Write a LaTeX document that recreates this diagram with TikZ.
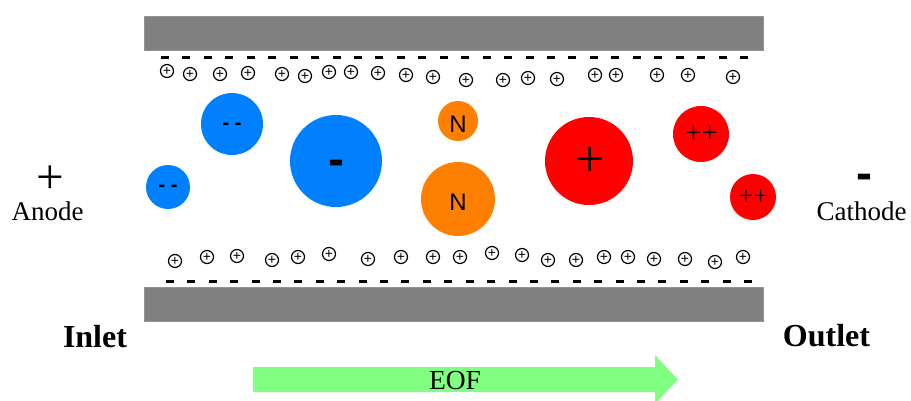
\documentclass[tikz,border=0pt]{standalone}
\usepackage{fontspec}
\setmainfont{Liberation Serif}
\newfontfamily\sansf{Liberation Sans}
\definecolor{plategray}{HTML}{808080}
\definecolor{ionblue}{HTML}{0080FF}
\definecolor{ionorange}{HTML}{FF8000}
\definecolor{ionred}{HTML}{FF0000}
\definecolor{eofgreen}{HTML}{80FF80}
\tikzset{
  plate/.style={fill=plategray, draw=plategray!85, line width=0.6pt},
  wallneg/.style={shape=rectangle, fill=black, minimum width=8pt, minimum height=3pt, inner sep=0pt},
  cation/.style={circle, draw=black, line width=1.2pt, minimum size=13pt, inner sep=0pt,
                 font=\sansf\fontsize{14}{14}\selectfont},
  particle/.style={circle, inner sep=0pt, draw=none},
  plab/.style={anchor=base, inner sep=0pt},
  txt/.style={anchor=base, inner sep=0pt, font=\fontsize{27}{30}\selectfont},
  bigtxt/.style={anchor=base, inner sep=0pt, font=\bfseries\fontsize{32}{36}\selectfont},
}
\begin{document}
\begin{tikzpicture}[x=1pt,y=-1pt]
\useasboundingbox (0,0) rectangle (911,400);
% plates
\fill[plate] (144,16) rectangle (763,50);
\fill[plate] (144,287) rectangle (763,321);
% wall charges
\foreach \i in {0,...,27} {
  \node[wallneg] (tw\i) at ({165+21.444*\i},57) {};
  \node[wallneg] (bw\i) at ({170+21.407*\i},281) {};
}
% counter-ions, top row
\foreach \x/\y [count=\i] in {167/71,190/74,220/74,248/73,282/74,305/76,329/72,351/72,378/73,406/75,433/77,466/80,503/80,528/78,557/79,595/75,616/75,657/75,688/75,733/77}
  \node[cation] (ti\i) at (\x,\y) {+};
% counter-ions, bottom row
\foreach \x/\y [count=\i] in {175/261,207/257,237/256,272/260,298/257,329/254,368/259,401/257,433/257,460/257,492/253,522/255,548/260,576/260,604/257,628/257,654/259,685/259,715/262,743/257}
  \node[cation] (bi\i) at (\x,\y) {+};
% particles
\node[particle, fill=ionblue, minimum size=44pt] (b1) at (168,187) {};
\node[particle, fill=ionblue, minimum size=62pt] (b2) at (232,124) {};
\node[particle, fill=ionblue, minimum size=92pt] (b3) at (336,161) {};
\node[particle, fill=ionorange, minimum size=40pt] (o1) at (458,121) {};
\node[particle, fill=ionorange, minimum size=74pt] (o2) at (458,199) {};
\node[particle, fill=ionred, minimum size=88pt] (r1) at (589,161) {};
\node[particle, fill=ionred, minimum size=56pt] (r2) at (701,134) {};
\node[particle, fill=ionred, minimum size=46pt] (r3) at (753,197) {};
% particle labels
\node[plab, font=\sansf\bfseries\fontsize{20}{20}\selectfont] (lb1) at (168,191.9) {- -};
\node[plab, font=\sansf\bfseries\fontsize{20}{20}\selectfont] (lb2) at (232,129.5) {- -};
\node[plab, font=\sansf\bfseries\fontsize{48}{48}\selectfont] (lb3) at (336,175.2) {-};
\node[plab, font=\sansf\fontsize{24}{24}\selectfont] (lo1) at (458,132.7) {N};
\node[plab, font=\sansf\fontsize{24}{24}\selectfont] (lo2) at (458,210) {N};
\node[plab, font=\fontsize{52}{52}\selectfont] (lr1) at (589.7,176) {+};
\node[plab, font=\fontsize{29}{29}\selectfont] (lr2) at (701.7,142.7) {++};
\node[plab, font=\fontsize{26}{26}\selectfont] (lr3) at (753.3,204) {++};
% electrodes
\node[plab, font=\fontsize{49}{49}\selectfont] (anp) at (50.5,193) {+};
\node[txt] (anode) at (47.5,220.7) {Anode};
\node[plab, font=\sansf\bfseries\fontsize{48}{48}\selectfont] (cam) at (864,189.5) {-};
\node[txt] (cathode) at (861.5,220) {Cathode};
\node[bigtxt] (inlet) at (95,347) {Inlet};
\node[bigtxt] (outlet) at (826.5,346) {Outlet};
% EOF arrow
\fill[eofgreen] (253,367) -- (655,367) -- (655,355) -- (678,379.5) -- (655,404) -- (655,392) -- (253,392) -- cycle;
\node[plab, font=\fontsize{27.5}{30}\selectfont] (eof) at (455,389.3) {EOF};
\end{tikzpicture}
\end{document}
